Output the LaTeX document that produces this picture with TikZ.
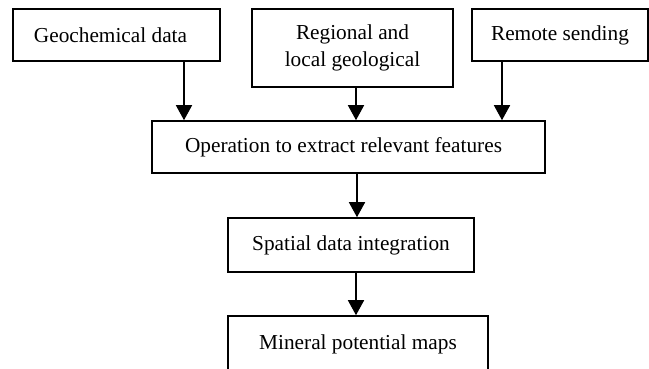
\documentclass[tikz,border=0pt]{standalone}
\usepackage{fontspec}
\setmainfont{Liberation Serif}
\usetikzlibrary{arrows.meta}
\begin{document}
\begin{tikzpicture}[x=1pt,y=-1pt,
  box/.style={draw,line width=1.6pt,inner sep=0pt,align=center,
    font=\fontsize{21.3}{27}\selectfont},
  arr/.style={line width=1.6pt,-{Triangle[width=16pt,length=15pt]}}]
\useasboundingbox (0,0) rectangle (649,368);
\node[box,minimum width=207pt,minimum height=52pt] (g) at (116.5,35) {Geochemical data\hspace*{12pt}};
\node[box,minimum width=201pt,minimum height=78pt] (r) at (352.5,48) {Regional and\\local geological};
\node[box,minimum width=176pt,minimum height=52pt] (s) at (560,35) {Remote sending};
\node[box,minimum width=393pt,minimum height=52pt] (o) at (348.5,147) {Operation to extract relevant features\hspace*{10pt}};
\node[box,minimum width=246pt,minimum height=54pt] (i) at (351,245) {Spatial data integration};
\node[box,minimum width=260pt,minimum height=58pt] (m) at (358,345) {\raisebox{6pt}{Mineral potential maps}};
\coordinate (c1) at (184,0);
\coordinate (c2) at (356,0);
\coordinate (c3) at (502,0);
\coordinate (c4) at (357,0);
\draw[arr] (g.south -| c1) -- (o.north -| c1);
\draw[arr] (r.south -| c2) -- (o.north -| c2);
\draw[arr] (s.south -| c3) -- (o.north -| c3);
\draw[arr] (o.south -| c4) -- (i.north -| c4);
\draw[arr] (i.south -| c2) -- (m.north -| c2);
\end{tikzpicture}
\end{document}
